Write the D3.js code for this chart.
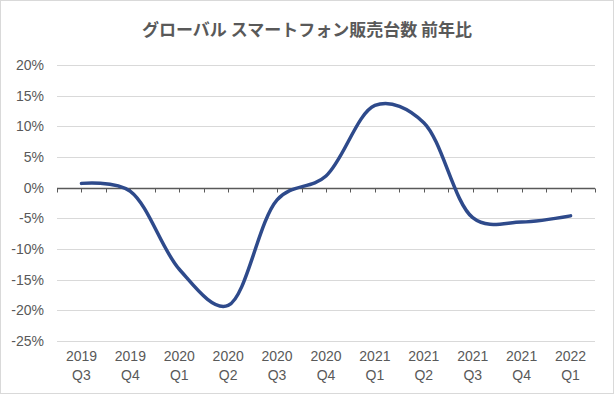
<!DOCTYPE html>
<html><head><meta charset="utf-8">
<script src="https://cdn.jsdelivr.net/npm/d3@7"></script>
<style>html,body{margin:0;padding:0;background:#fff;}svg{display:block;}</style>
</head><body>
<script>
const title = "グローバル スマートフォン販売台数 前年比";
const years = ["2019","2019","2020","2020","2020","2020","2021","2021","2021","2021","2022"];
const quarters = ["Q3","Q4","Q1","Q2","Q3","Q4","Q1","Q2","Q3","Q4","Q1"];
const yoy = [0.7, -0.6, -13.3, -19.2, -2.0, 1.9, 13.4, 10.6, -4.9, -5.6, -4.6];
const yTicks = [20, 15, 10, 5, 0, -5, -10, -15, -20, -25];

(function(){
const W = 614, H = 394;
const svg = d3.select("body").append("svg").attr("width", W).attr("height", H);
svg.append("rect").attr("x",0.5).attr("y",0.5).attr("width",W-1).attr("height",H-1)
  .attr("fill","#fff").attr("stroke","#d9d9d9");

const pL = 57, pR = 595, pT = 65, pB = 341;
const cats = d3.range(years.length);
const x = d3.scaleBand().domain(cats).range([pL, pR]);
const xc = i => x(i) + x.bandwidth()/2;
const y = d3.scaleLinear().domain([-25, 20]).range([pB, pT]);

svg.append("text").attr("x", 307).attr("y", 36).attr("text-anchor","middle")
  .attr("font-family","'Noto Sans CJK JP', sans-serif").attr("font-weight","bold")
  .attr("font-size",17).attr("fill","#595959").text(title);

svg.append("g").selectAll("line").data(yTicks.filter(d=>d!==0)).join("line")
  .attr("x1",pL).attr("x2",pR).attr("y1",d=>Math.round(y(d))+0.5).attr("y2",d=>Math.round(y(d))+0.5)
  .attr("stroke","#d9d9d9").attr("stroke-width",1);

const yAxis = d3.axisLeft(y).tickValues(yTicks).tickFormat(d=>d+"%").tickSize(0).tickPadding(13);
const gy = svg.append("g").attr("transform",`translate(${pL},0)`).call(yAxis);
gy.select(".domain").remove();
gy.selectAll("text").attr("font-family","'Liberation Sans', Arial, sans-serif").attr("font-size",14).attr("fill","#595959");

const y0 = Math.round(y(0)) + 0.5;
svg.append("line").attr("x1",pL).attr("x2",pR).attr("y1",y0).attr("y2",y0)
  .attr("stroke","#595959").attr("stroke-width",1.5);
const tickPos = d3.range(0, years.length*2+1).map(k => pL + k * x.bandwidth()/2);
svg.append("g").selectAll("line").data(tickPos).join("line")
  .attr("x1",d=>Math.round(d)+0.5).attr("x2",d=>Math.round(d)+0.5).attr("y1",y0).attr("y2",y0+4)
  .attr("stroke","#595959").attr("stroke-width",1);

const gx = svg.append("g");
cats.forEach(i => {
  const t = gx.append("text").attr("x", xc(i)).attr("text-anchor","middle")
    .attr("font-family","'Liberation Sans', Arial, sans-serif").attr("font-size",14).attr("fill","#595959");
  t.append("tspan").attr("x", xc(i)).attr("y", 361).text(years[i]);
  t.append("tspan").attr("x", xc(i)).attr("y", 380).text(quarters[i]);
});

const line = d3.line().x((d,i)=>xc(i)).y(d=>y(d)).curve(d3.curveCatmullRom.alpha(0.3));
svg.append("path").datum(yoy).attr("d", line).attr("fill","none")
  .attr("stroke","#2E4A8B").attr("stroke-width",3.5).attr("stroke-linecap","round").attr("stroke-linejoin","round");
})();
</script>
</body></html>
